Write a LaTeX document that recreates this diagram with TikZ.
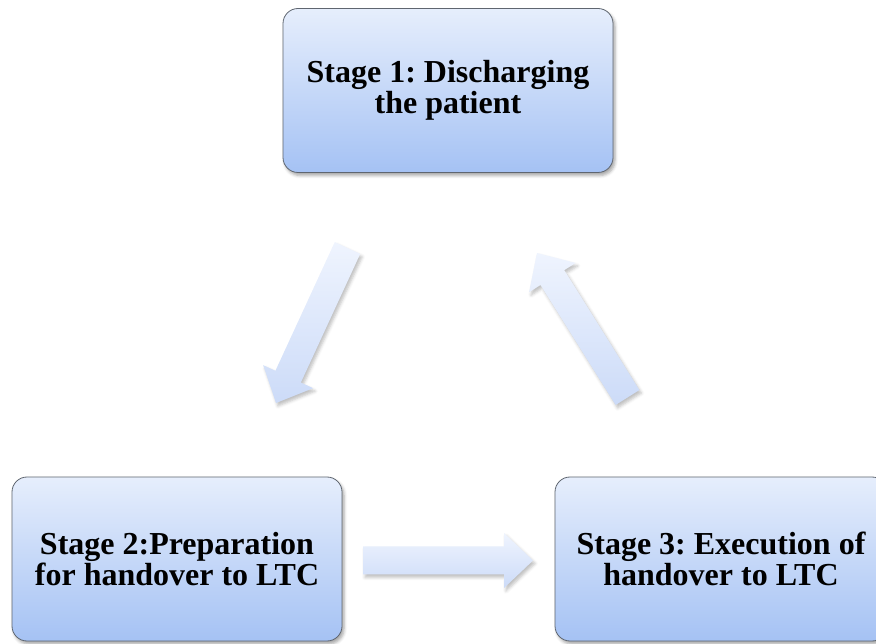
\documentclass[tikz,border=0pt]{standalone}
\usepackage{fontspec}
\setmainfont{Liberation Serif}[BoldFont={Liberation Serif Bold}]
\frenchspacing
\usetikzlibrary{calc,shadows.blur}

\definecolor{boxtop}{HTML}{E6EEFC}
\definecolor{boxbot}{HTML}{A5C2F4}
\definecolor{boxline}{HTML}{5F6670}
\definecolor{arrtop}{HTML}{EFF4FE}
\definecolor{arrbot}{HTML}{CCDBF8}

\tikzset{
  stagebox/.style={
    rectangle, rounded corners=15pt, draw=boxline, line width=0.8pt,
    top color=boxtop, bottom color=boxbot,
    minimum width=330pt, minimum height=164pt,
    align=center, font=\bfseries\fontsize{32}{31}\selectfont,
    blur shadow={shadow xshift=2pt, shadow yshift=-3pt,
                 shadow blur radius=3pt, shadow opacity=35}
  },
  blockarrow/.style={
    top color=arrtop, bottom color=arrbot, draw=none,
    blur shadow={shadow xshift=2pt, shadow yshift=-3pt,
                 shadow blur radius=3pt, shadow opacity=25}
  }
}

% block arrow from coordinate #1 (tail) to coordinate #2 (tip)
\newcommand\stagearrow[2]{%
  \path[blockarrow]
    ($(#1)!14pt!-90:(#2)$) --
    ($(#2)!29pt!(#1)!14pt!-90:(#2)$) --
    ($(#2)!29pt!(#1)!27.5pt!-90:(#2)$) --
    (#2) --
    ($(#2)!29pt!(#1)!27.5pt!90:(#2)$) --
    ($(#2)!29pt!(#1)!14pt!90:(#2)$) --
    ($(#1)!14pt!90:(#2)$) -- cycle;
}

\begin{document}
\begin{tikzpicture}[x=1pt,y=1pt]
  \useasboundingbox (0,0) rectangle (876,643);
  \clip (0,0) rectangle (876,643);

  % the three stages
  \node[stagebox] (s1) at (448,552.5) {Stage 1: Discharging\\the patient};
  \node[stagebox] (s2) at (177,84) {Stage 2:Preparation\\for handover to LTC};
  \node[stagebox, minimum width=332pt] (s3) at (721,84) {Stage 3: Execution of\\handover to LTC};

  % end points of the block arrows
  \coordinate (a1tail) at (347.5,395);
  \coordinate (a1tip)  at (276,240);
  \coordinate (a2tail) at (363,82.5);
  \coordinate (a2tip)  at (533,82.5);
  \coordinate (a3tail) at (627.5,245.5);
  \coordinate (a3tip)  at (537,390);

  \stagearrow{a1tail}{a1tip}
  \stagearrow{a2tail}{a2tip}
  \stagearrow{a3tail}{a3tip}
\end{tikzpicture}
\end{document}
